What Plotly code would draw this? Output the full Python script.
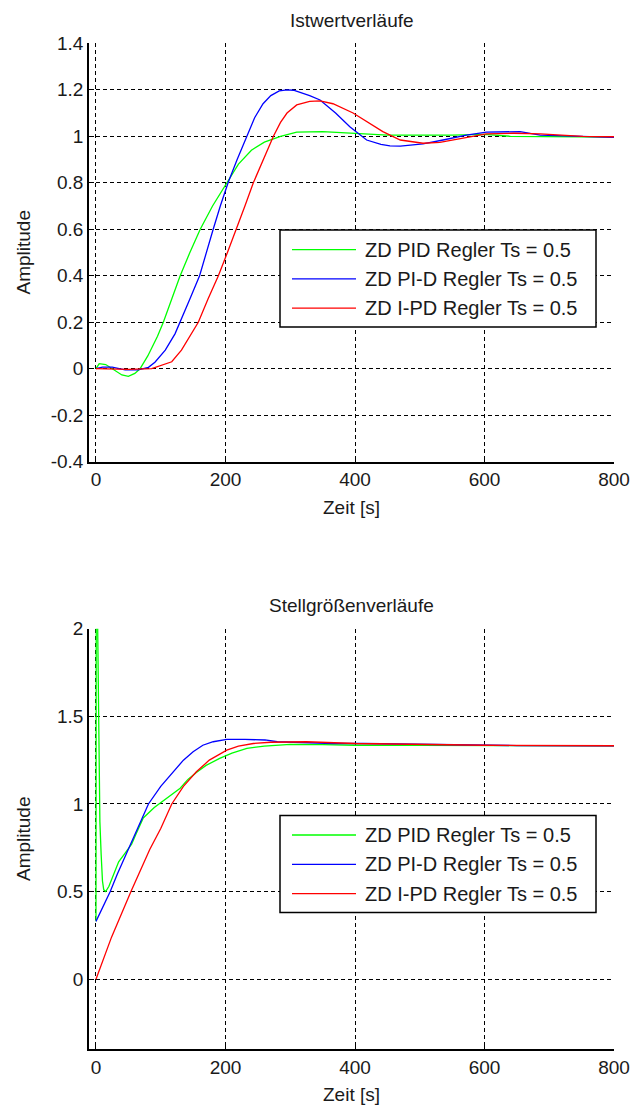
import plotly.graph_objects as go

W, H = 630, 1108

series_names = ["ZD PID Regler Ts = 0.5", "ZD PI-D Regler Ts = 0.5", "ZD I-PD Regler Ts = 0.5"]
series_colors = ["#00ff00", "#0000ff", "#ff0000"]

# ---- Istwertverläufe (top) ----
top_t_pid = [0, 5, 15, 25, 40, 50, 60, 68, 80, 95, 104, 117, 130, 145, 161, 180, 202, 220, 240, 260, 285, 310, 350, 390, 450, 550, 600, 640, 700, 800]
top_y_pid = [0, 0.022, 0.018, 0.0, -0.027, -0.033, -0.02, 0, 0.055, 0.14, 0.2, 0.3, 0.4, 0.5, 0.6, 0.7, 0.8, 0.88, 0.94, 0.975, 1.0, 1.018, 1.02, 1.013, 1.005, 1.005, 1.008, 1.0, 1.0, 0.997]

top_t_pid_d = [0, 10, 25, 45, 65, 81, 91, 107, 122, 130, 145, 160, 170, 181, 192, 204, 218, 233, 245, 258, 270, 283, 295, 305, 315, 330, 346, 370, 392, 418, 440, 454, 470, 505, 536, 572, 603, 630, 655, 686, 752, 800]
top_y_pid_d = [0, 0.007, 0.007, -0.005, -0.005, 0.006, 0.028, 0.08, 0.15, 0.2, 0.3, 0.4, 0.5, 0.6, 0.7, 0.8, 0.9, 1.0, 1.08, 1.14, 1.175, 1.195, 1.2, 1.198, 1.19, 1.175, 1.156, 1.1, 1.041, 0.984, 0.965, 0.959, 0.958, 0.967, 0.984, 1.005, 1.018, 1.02, 1.02, 1.005, 0.998, 0.995]

top_t_i_pd = [0, 50, 86, 101, 117, 132, 145, 158, 173, 189, 203, 217, 230, 243, 258, 274, 285, 295, 310, 330, 346, 366, 397, 420, 443, 470, 505, 531, 572, 603, 645, 686, 752, 800]
top_y_i_pd = [0, -0.003, 0, 0.016, 0.03, 0.08, 0.14, 0.2, 0.3, 0.4, 0.5, 0.6, 0.7, 0.8, 0.9, 1.0, 1.06, 1.1, 1.135, 1.15, 1.152, 1.14, 1.1, 1.06, 1.02, 0.984, 0.97, 0.974, 0.995, 1.01, 1.013, 1.01, 1.0, 0.998]

# ---- Stellgrößenverläufe (bottom) ----
bot_t_pid = [0, 0.5, 2, 3, 3.5, 5, 6, 8, 10, 12, 15, 20, 24, 30, 35, 45, 55, 62, 73, 90, 104, 117, 130, 142, 155, 170, 191, 210, 233, 260, 300, 350, 400, 500, 600, 700, 800]
bot_y_pid = [0.33, 2.6, 2.2, 1.9, 1.5, 1.07, 0.9, 0.71, 0.56, 0.51, 0.5, 0.53, 0.57, 0.63, 0.67, 0.72, 0.77, 0.83, 0.92, 0.98, 1.02, 1.055, 1.09, 1.14, 1.18, 1.22, 1.26, 1.29, 1.317, 1.33, 1.34, 1.338, 1.335, 1.334, 1.333, 1.333, 1.332]

bot_t_pid_d = [0, 10, 22, 33, 45, 55, 65, 81, 100, 119, 135, 150, 165, 181, 202, 230, 261, 280, 325, 366, 412, 531, 567, 650, 800]
bot_y_pid_d = [0.33, 0.41, 0.5, 0.6, 0.7, 0.79, 0.87, 1.0, 1.1, 1.184, 1.25, 1.298, 1.335, 1.355, 1.368, 1.368, 1.365, 1.355, 1.35, 1.345, 1.345, 1.338, 1.335, 1.333, 1.332]

bot_t_i_pd = [0, 11, 24, 54, 83, 100, 117, 135, 155, 175, 202, 220, 243, 270, 300, 325, 400, 500, 600, 800]
bot_y_i_pd = [0, 0.11, 0.24, 0.5, 0.74, 0.86, 1.0, 1.1, 1.184, 1.25, 1.307, 1.33, 1.345, 1.352, 1.355, 1.355, 1.345, 1.34, 1.335, 1.332]

top_titles = ("Istwertverläufe", "Stellgrößenverläufe")
x_label = "Zeit [s]"
y_label = "Amplitude"

x_ticks = [0, 200, 400, 600, 800]
top_y_ticks = [-0.4, -0.2, 0, 0.2, 0.4, 0.6, 0.8, 1, 1.2, 1.4]
top_y_ticktext = ["-0.4", "-0.2", "0", "0.2", "0.4", "0.6", "0.8", "1", "1.2", "1.4"]
bot_y_ticks = [0, 0.5, 1, 1.5, 2]
bot_y_ticktext = ["0", "0.5", "1", "1.5", "2"]

# ---- layout geometry (pixels) ----
PX_L, PX_R = 89, 614
TOP_Y0, TOP_Y1 = 43.3, 461.7
BOT_Y0, BOT_Y1 = 628.7, 1049.3

def xp(px):
    return px / W

def yp(py):
    return 1 - py / H

FONT = "Liberation Sans, Arial, Helvetica, sans-serif"
FS = 19
TXT = "#1a1a1a"

fig = go.Figure()

top_data = [(top_t_pid, top_y_pid), (top_t_pid_d, top_y_pid_d), (top_t_i_pd, top_y_i_pd)]
bot_data = [(bot_t_pid, bot_y_pid), (bot_t_pid_d, bot_y_pid_d), (bot_t_i_pd, bot_y_i_pd)]

for (tx, ty), name, col in zip(top_data, series_names, series_colors):
    fig.add_trace(go.Scatter(x=tx, y=ty, mode="lines", name=name, showlegend=False,
                             line=dict(color=col, width=1.3), xaxis="x", yaxis="y"))
for (tx, ty), name, col in zip(bot_data, series_names, series_colors):
    fig.add_trace(go.Scatter(x=tx, y=ty, mode="lines", name=name, showlegend=False,
                             line=dict(color=col, width=1.3), xaxis="x2", yaxis="y2"))

axis_common = dict(
    showline=True, linecolor="#000", linewidth=1.5, mirror=False, automargin=False,
    showgrid=True, gridcolor="#000", gridwidth=1, griddash="4px,3px",
    zeroline=False, ticks="inside", ticklen=5, tickcolor="#000", tickwidth=1,
    tickfont=dict(family=FONT, size=FS, color=TXT),
)

fig.update_layout(
    width=W, height=H,
    paper_bgcolor="white", plot_bgcolor="white",
    margin=dict(l=0, r=0, t=0, b=0, autoexpand=False),
    showlegend=False,
    xaxis=dict(domain=[xp(PX_L), xp(PX_R)], range=[-10.8, 800], anchor="y",
               tickvals=x_ticks, ticktext=[str(v) for v in x_ticks], **axis_common),
    yaxis=dict(domain=[yp(TOP_Y1), yp(TOP_Y0)], range=[-0.4, 1.4], anchor="x",
               tickvals=top_y_ticks, ticktext=top_y_ticktext, **axis_common),
    xaxis2=dict(domain=[xp(PX_L), xp(PX_R)], range=[-10.8, 800], anchor="y2",
                tickvals=x_ticks, ticktext=[str(v) for v in x_ticks], **axis_common),
    yaxis2=dict(domain=[yp(BOT_Y1), yp(BOT_Y0)], range=[-0.4, 2], anchor="x2",
                tickvals=bot_y_ticks, ticktext=bot_y_ticktext, **axis_common),
)

annotations = []
shapes = []
for title, y0, y1, title_py in [(top_titles[0], TOP_Y0, TOP_Y1, 20), (top_titles[1], BOT_Y0, BOT_Y1, 605)]:
    cx = (PX_L + PX_R) / 2
    annotations.append(dict(text=title, x=xp(cx), y=yp(title_py), xref="paper", yref="paper",
                            showarrow=False, xanchor="center", yanchor="middle",
                            font=dict(family=FONT, size=FS, color=TXT)))
    annotations.append(dict(text=x_label, x=xp(cx), y=yp(y1 + 45.5), xref="paper", yref="paper",
                            showarrow=False, xanchor="center", yanchor="middle",
                            font=dict(family=FONT, size=FS, color=TXT)))
    annotations.append(dict(text=y_label, x=xp(23), y=yp((y0 + y1) / 2), xref="paper", yref="paper",
                            showarrow=False, xanchor="center", yanchor="middle", textangle=-90,
                            font=dict(family=FONT, size=FS, color=TXT)))
    # legend (drawn manually)
    lx0, lx1 = 280, 596
    ly0 = y0 + 186.8
    ly1 = ly0 + 97
    shapes.append(dict(type="rect", xref="paper", yref="paper", x0=xp(lx0), x1=xp(lx1),
                       y0=yp(ly1), y1=yp(ly0), line=dict(color="#000", width=1.5), fillcolor="white",
                       layer="above"))
    for i, (name, col) in enumerate(zip(series_names, series_colors)):
        ey = ly0 + 19.5 + i * 29.3
        shapes.append(dict(type="line", xref="paper", yref="paper", x0=xp(292), x1=xp(356),
                           y0=yp(ey), y1=yp(ey), line=dict(color=col, width=1.3), layer="above"))
        annotations.append(dict(text=name, x=xp(363), y=yp(ey), xref="paper", yref="paper",
                                showarrow=False, xanchor="left", yanchor="middle",
                                font=dict(family=FONT, size=FS + 1, color=TXT)))

fig.update_layout(annotations=annotations, shapes=shapes)

fig.write_html("out.html", config={"displayModeBar": False},
               post_script="document.body.style.margin='0';document.body.style.overflow='hidden';")
